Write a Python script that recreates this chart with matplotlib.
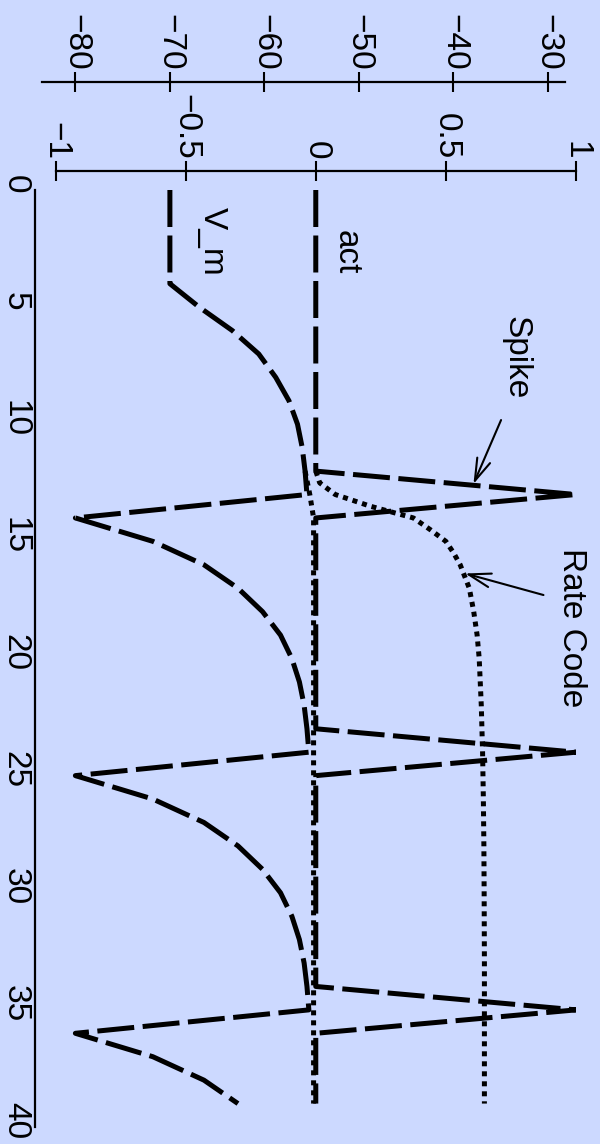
import numpy as np
import matplotlib
matplotlib.use('Agg')
import matplotlib.pyplot as plt
import matplotlib.transforms as mtransforms

plt.rcParams['font.family'] = ['Liberation Sans', 'DejaVu Sans']
plt.rcParams['font.size'] = 24

# tiempo (pasos de simulacion)
tiempo = np.arange(0, 40)

# neurona de espigas
vm_spike = [-70, -70, -70, -70, -70, -66.9, -63.4, -60.6, -58.8, -57.4, -56.5, -56.0, -55.7, -55.5,
            -80, -71.8, -66.4, -62.8, -60.2, -58.3, -57.1, -56.3, -55.8, -55.5, -55.3,
            -80, -71.8, -66.4, -62.8, -60.2, -58.3, -57.1, -56.3, -55.8, -55.5, -55.3,
            -80, -71.8, -66.4, -62.8]
act_spike = [0, 0, 0, 0, 0, 0, 0, 0, 0, 0, 0, 0, 0, 1,
             0, 0, 0, 0, 0, 0, 0, 0, 0, 0, 1,
             0, 0, 0, 0, 0, 0, 0, 0, 0, 0, 1,
             0, 0, 0, 0]

# codigo de tasa (solo se separa de la espiga desde t=12)
tiempo_vm_rate = np.arange(12, 40)
vm_rate = [-55.7, -55.2,
           -54.8, -54.8, -54.8, -54.8, -54.8, -54.8, -54.8, -54.8, -54.8, -54.8, -54.8,
           -54.8, -54.8, -54.8, -54.8, -54.8, -54.8, -54.8, -54.8, -54.8, -54.8, -54.8,
           -54.8, -54.8, -54.8, -54.8]
tiempo_rate = [12, 12.5, 13, 13.5, 14, 14.5, 15, 15.5, 16, 17, 18, 19, 20, 22, 24, 26, 28, 30, 33, 36, 39]
act_rate = [0, 0.015, 0.075, 0.21, 0.375, 0.44, 0.5, 0.53, 0.555, 0.59, 0.607, 0.62, 0.628,
            0.636, 0.641, 0.644, 0.646, 0.647, 0.648, 0.648, 0.648]

ticks_t = [0, 5, 10, 15, 20, 25, 30, 35, 40]
ticks_act = [-1, -0.5, 0, 0.5, 1]
etiquetas_act = ['\u22121', '\u22120.5', '0', '0.5', '1']
ticks_vm = [-80, -70, -60, -50, -40, -30]

fondo = '#ccd9ff'

fig = plt.figure(figsize=(6, 11.44), dpi=100, facecolor=fondo)
ax = fig.add_axes([35 / 600, 1 - 1127 / 1144, 541 / 600, 937 / 1144])
ax.set_facecolor(fondo)
ax2 = ax.twiny()

ax.xaxis.set_ticks_position('top')
ax.xaxis.set_label_position('top')

guion = (7.4, 1.7)
punto = (1, 1)

# lineas (tiempo vertical, valores horizontales)
ax.plot(act_rate, tiempo_rate, color='k', lw=3.6, dashes=punto)
ax.plot(act_spike, tiempo, color='k', lw=3.6, dashes=guion)
ax2.plot(vm_rate, tiempo_vm_rate, color='k', lw=3.6, dashes=punto)
ax2.plot(vm_spike, tiempo, color='k', lw=3.6, dashes=guion)

ax.set_xlim(-1.079, 1)
ax2.set_xlim(-84.27, -27.04)
ax.set_ylim(40, 0)

# ejes
for s in ['right', 'bottom']:
    ax.spines[s].set_visible(False)
for s in ['right', 'bottom', 'left']:
    ax2.spines[s].set_visible(False)
ax.spines['top'].set_position(('outward', 13.7))
ax.spines['top'].set_bounds(-1, 1)
ax2.spines['top'].set_position(('outward', 77.8))
ax2.spines['top'].set_bounds(-83.5, -28.25)
for sp in [ax.spines['top'], ax.spines['left'], ax2.spines['top']]:
    sp.set_linewidth(1.6)

ax.tick_params(axis='x', direction='inout', length=14.4, width=1.5, pad=1, labelrotation=-90)
ax2.tick_params(axis='x', direction='inout', length=14.4, width=1.5, pad=1, labelrotation=-90)
ax.tick_params(axis='y', length=0, pad=3, labelrotation=-90)

ax.set_xticks(ticks_act)
ax.set_xticklabels(etiquetas_act)
ax2.set_xticks(ticks_vm)
ax.set_yticks(ticks_t)
ax.set_yticklabels([str(t) for t in ticks_t])

desp = mtransforms.ScaledTranslation(0, 6 / 100, fig.dpi_scale_trans)
for lbl in ax.get_yticklabels():
    lbl.set_verticalalignment('center')
    lbl.set_transform(lbl.get_transform() + desp)

# textos
ax.text(0.117, 2.67, 'act', rotation=-90, ha='center', va='center')
ax.text(-0.398, 2.18, 'V_m', rotation=-90, ha='center', va='center')
ax.text(0.768, 7.17, 'Spike', rotation=-90, ha='center', va='center')
ax.text(0.981, 18.68, 'Rate Code', rotation=-90, ha='center', va='center')

flecha = dict(arrowstyle='->,head_length=0.8,head_width=0.25', lw=1.5, color='k',
              shrinkA=0, shrinkB=0, mutation_scale=20)
ax.annotate('', xy=(0.606, 12.55), xytext=(0.712, 9.82), arrowprops=flecha)
ax.annotate('', xy=(0.574, 16.37), xytext=(0.875, 17.29), arrowprops=flecha)

fig.savefig('out.png', dpi=100, facecolor=fondo)
